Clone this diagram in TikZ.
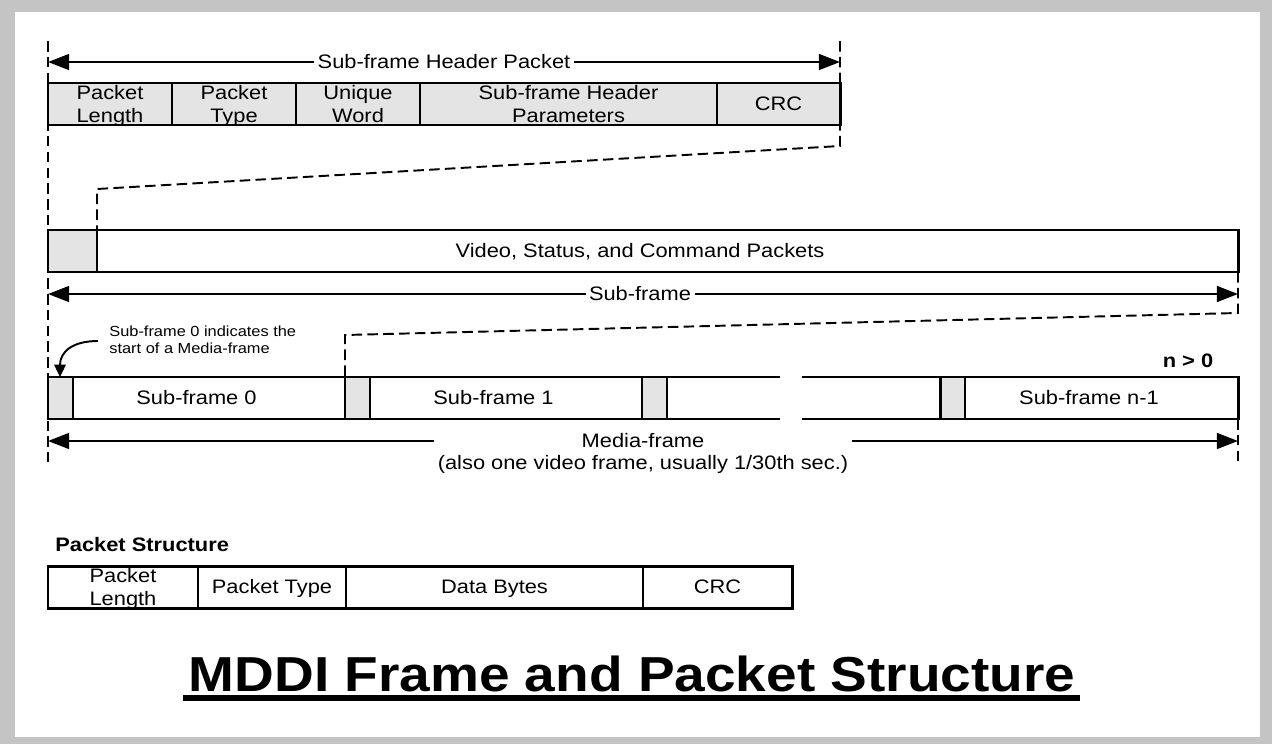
\documentclass[tikz,border=0pt]{standalone}
\usepackage{graphicx}
\usepackage{fontspec}
\setmainfont{Liberation Sans}
\usetikzlibrary{arrows.meta}
\definecolor{cellgray}{HTML}{E4E4E4}
\definecolor{framegray}{HTML}{C4C4C4}
\newcommand{\sx}[1]{\scalebox{1.12}[1]{#1}}
\newcommand{\mlc}[1]{\begin{tabular}{@{}c@{}}#1\end{tabular}}
\newcommand{\mll}[1]{\begin{tabular}{@{}l@{}}#1\end{tabular}}
\begin{document}
\begin{tikzpicture}[x=0.02cm,y=-0.02cm,
  box/.style={draw=black,line width=1.7pt},
  thinbox/.style={draw=black,line width=1.2pt},
  guide/.style={line width=1.1pt,dash pattern=on 6pt off 3pt},
  dim/.style={line width=1.1pt,{Triangle[length=12pt,width=9pt]}-{Triangle[length=12pt,width=9pt]}},
  txt/.style={inner sep=0pt,font=\fontsize{11.1}{12.75}\selectfont},
  btxt/.style={inner sep=0pt,font=\bfseries\fontsize{11.1}{12.75}\selectfont},
  smalltxt/.style={inner sep=0pt,font=\fontsize{8.33}{9.64}\selectfont},
  onarrow/.style={txt,fill=white,inner xsep=2pt},
  titletxt/.style={inner sep=0pt,font=\bfseries\fontsize{27.95}{33}\selectfont}
]
\useasboundingbox (0,0) rectangle (1272,744);
\fill[framegray] (0,0) rectangle (1272,744);
\fill[white] (15,12) rectangle (1260,737);

% dashed guide lines
\draw[guide] (48,41) -- (48,462);
\draw[guide] (840,41) -- (840,146) -- (97,189) -- (97,230);
\draw[guide] (1238,272) -- (1238,313) -- (345,335) -- (345,377);
\draw[guide] (1238,419) -- (1238,462);

% ---------- sub-frame header packet ----------
\coordinate (hL) at (48,62);
\coordinate (hR) at (840,62);
\draw[dim] (hL) -- (hR);
\node[onarrow] (hdrlbl) at (444,64.5) {\sx{\mlc{Sub-frame Header Packet}}};

\fill[cellgray] (48,83) rectangle (840,125);
\draw[box] (48,83) rectangle (840,125);
\foreach \x in {172,296,420,717} \draw[box] (\x,83) -- (\x,125);
\node[txt] (h1) at (110,106.5) {\sx{\mlc{Packet\\Length}}};
\node[txt] (h2) at (234,106.5) {\sx{\mlc{Packet\\Type}}};
\node[txt] (h3) at (358,106.5) {\sx{\mlc{Unique\\Word}}};
\node[txt] (h4) at (568.5,106.5) {\sx{\mlc{Sub-frame Header\\Parameters}}};
\node[txt] (h5) at (778.5,106.5) {\sx{\mlc{CRC}}};

% ---------- sub-frame ----------
\fill[white] (48,230) rectangle (1238,272);
\fill[cellgray] (48,230) rectangle (97,272);
\draw[box] (48,230) rectangle (1238,272);
\draw[box] (97,230) -- (97,272);
\node[txt] (sfbody) at (640,253.5) {\sx{\mlc{Video, Status, and Command Packets}}};

\coordinate (sL) at (48,294);
\coordinate (sR) at (1238,294);
\draw[dim] (sL) -- (sR);
\node[onarrow] (sflbl) at (640,296.5) {\sx{\mlc{Sub-frame}}};

% ---------- media-frame ----------
\node[smalltxt,anchor=west] (note) at (109,342) {\sx{\mll{Sub-frame 0 indicates the\\start of a Media-frame}}};
\coordinate (noteS) at (98,341);
\coordinate (noteT) at (60,377);
\draw[line width=1.1pt,-{Triangle[length=7pt,width=6.5pt]}] (noteS) .. controls (72,341) and (60,352) .. (noteT);

\node[btxt] (ngt) at (1188,363.5) {\sx{\mlc{n > 0}}};

\fill[white] (48,377) rectangle (780,419);
\fill[white] (802,377) rectangle (1238,419);
\foreach \x in {48,345,642,940} \fill[cellgray] (\x,377) rectangle ({\x+25},419);
\draw[box] (780,377) -- (48,377) -- (48,419) -- (780,419);
\draw[box] (802,377) -- (1238,377) -- (1238,419) -- (802,419);
\foreach \x in {345,642,940} \draw[box] (\x,377) -- (\x,419);
\foreach \x in {73,370,667,965} \draw[thinbox] (\x,377) -- (\x,419);
\node[txt] (sf0) at (196.5,400.5) {\sx{\mlc{Sub-frame 0}}};
\node[txt] (sf1) at (493.5,400.5) {\sx{\mlc{Sub-frame 1}}};
\node[txt] (sfn) at (1089,400.5) {\sx{\mlc{Sub-frame n-1}}};

\coordinate (mL) at (48,441);
\coordinate (mR) at (1238,441);
\draw[dim] (mL) -- (mR);
\node[onarrow] (mflbl) at (643,454) {\sx{\mlc{Media-frame\\(also one video frame, usually 1/30th sec.)}}};

% ---------- packet structure ----------
\node[btxt,anchor=west] (pslbl) at (55,547) {\sx{\mlc{Packet Structure}}};
\draw[box] (48,566) rectangle (792,608);
\foreach \x in {198,346,643} \draw[box] (\x,566) -- (\x,608);
\node[txt] (p1) at (123,589.5) {\sx{\mlc{Packet\\Length}}};
\node[txt] (p2) at (272,589.5) {\sx{\mlc{Packet Type}}};
\node[txt] (p3) at (494.5,589.5) {\sx{\mlc{Data Bytes}}};
\node[txt] (p4) at (717.5,589.5) {\sx{\mlc{CRC}}};

% ---------- title ----------
\node[titletxt] (title) at (632,680) {\sx{\mlc{MDDI Frame and Packet Structure}}};
\draw[line width=3.4pt] (183,698) -- (1080,698);
\end{tikzpicture}
\end{document}
